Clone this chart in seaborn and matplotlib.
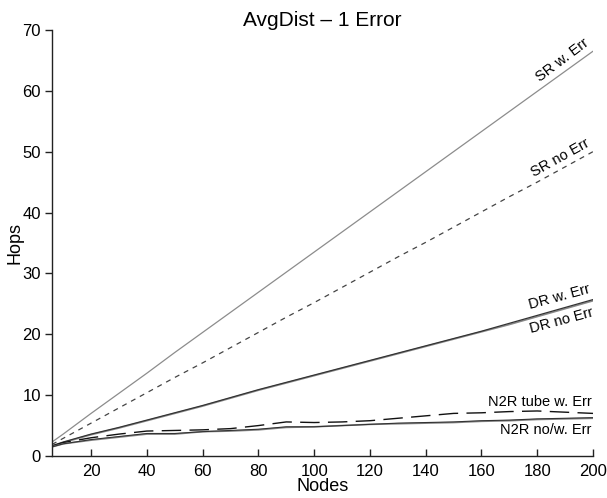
import pandas as pd
import matplotlib
matplotlib.use("Agg")
import matplotlib.pyplot as plt
import seaborn as sns

nodes = [6, 10, 20, 30, 40, 50, 60, 70, 80, 90, 100, 110, 120, 130, 140, 150, 160, 170, 180, 190, 200]

sr_err = [2.3, 3.6, 7.0, 10.3, 13.6, 17.0, 20.3, 23.6, 26.9, 30.2, 33.5, 36.8, 40.1, 43.4, 46.7, 50.0, 53.3, 56.6, 59.9, 63.2, 66.5]
sr_noerr = [1.9, 2.9, 5.4, 7.9, 10.4, 12.9, 15.3, 17.8, 20.3, 22.8, 25.2, 27.7, 30.2, 32.7, 35.1, 37.6, 40.1, 42.6, 45.0, 47.5, 50.0]
dr_err = [1.7, 2.3, 3.6, 4.7, 5.9, 7.1, 8.3, 9.6, 10.9, 12.1, 13.3, 14.5, 15.7, 16.9, 18.1, 19.3, 20.5, 21.8, 23.1, 24.4, 25.7]
dr_noerr = [1.6, 2.2, 3.5, 4.6, 5.8, 7.0, 8.2, 9.5, 10.8, 12.0, 13.2, 14.4, 15.6, 16.8, 18.0, 19.2, 20.4, 21.6, 22.9, 24.2, 25.5]
n2r_tube = [1.6, 2.2, 3.0, 3.6, 4.1, 4.2, 4.3, 4.5, 5.0, 5.6, 5.5, 5.6, 5.8, 6.2, 6.6, 7.0, 7.1, 7.3, 7.4, 7.2, 7.0]
n2r_no = [1.5, 2.0, 2.6, 3.1, 3.6, 3.6, 4.0, 4.1, 4.3, 4.7, 4.8, 5.0, 5.2, 5.3, 5.4, 5.5, 5.7, 5.8, 6.0, 6.1, 6.2]
n2r_w = [1.5, 2.0, 2.7, 3.2, 3.7, 3.7, 4.0, 4.2, 4.4, 4.8, 4.8, 5.0, 5.2, 5.4, 5.5, 5.6, 5.8, 5.9, 6.1, 6.2, 6.3]

sns.set_style("ticks")
plt.rcParams["font.family"] = ["Liberation Sans", "DejaVu Sans"]
plt.rcParams["text.color"] = "black"
plt.rcParams["axes.labelcolor"] = "black"
plt.rcParams["xtick.color"] = "black"
plt.rcParams["ytick.color"] = "black"

fig = plt.figure(figsize=(6.07, 4.98), dpi=100)
ax = fig.add_axes([0.0857, 0.0843, 0.8913, 0.8557])

styles = [
    (sr_err, "#8c8c8c", None, 0.9),
    (sr_noerr, "#444444", (4, 4), 0.9),
    (dr_noerr, "#888888", None, 1.2),
    (dr_err, "#333333", None, 0.9),
    (n2r_tube, "#111111", (14, 6), 1.0),
    (n2r_no, "#888888", None, 1.2),
    (n2r_w, "#333333", None, 0.8),
]
for vals, col, dash, lw in styles:
    sns.lineplot(x=nodes, y=vals, ax=ax, color=col, linewidth=lw)
    if dash is not None:
        ax.lines[-1].set_dashes(dash)

ax.set_xlim(6, 200)
ax.set_ylim(0, 70)
ax.set_xticks(range(20, 201, 20))
ax.set_yticks(range(0, 71, 10))
ax.tick_params(axis="x", direction="in", length=5, width=1, labelsize=12, pad=6, color="#222222")
ax.tick_params(axis="y", direction="out", length=5, width=1, labelsize=12, pad=3, color="#222222")
sns.despine(ax=ax)
for s in ["left", "bottom"]:
    ax.spines[s].set_color("#222222")
    ax.spines[s].set_linewidth(1.0)

ax.set_title("AvgDist \u2013 1 Error", fontsize=15, pad=3)
ax.set_xlabel("Nodes", fontsize=13, labelpad=-1)
ax.set_ylabel("Hops", fontsize=13, labelpad=-1)

kw = dict(fontsize=10.5, rotation_mode="anchor")
ax.text(199.5, 67.2, "SR w. Err", ha="right", va="bottom", rotation=37, **kw)
ax.text(199.5, 50.6, "SR no Err", ha="right", va="bottom", rotation=29, **kw)
ax.text(199.5, 26.3, "DR w. Err", ha="right", va="bottom", rotation=15, **kw)
ax.text(199.5, 24.7, "DR no Err", ha="right", va="top", rotation=15, **kw)
ax.text(199.5, 7.7, "N2R tube w. Err", ha="right", va="bottom", **kw)
ax.text(199.5, 5.5, "N2R no/w. Err", ha="right", va="top", **kw)

fig.savefig("out.png", dpi=100)
